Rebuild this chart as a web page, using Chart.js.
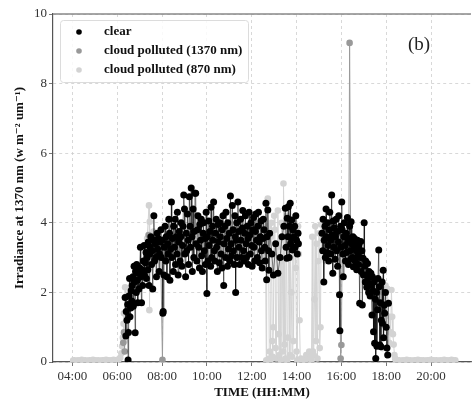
<!DOCTYPE html>
<html lang="en">
<head>
    <meta charset="UTF-8">
    <title>Irradiance at 1370 nm</title>
    <script src="https://cdn.jsdelivr.net/npm/chart.js@4.4.1/dist/chart.umd.min.js"></script>
    <style>
        html, body { margin: 0; padding: 0; background: #fff; }
        #wrap { width: 475px; height: 401px; position: relative; }
    </style>
</head>
<body>
<div id="wrap"><canvas id="irrChart"></canvas></div>
<script>
// time in minutes after midnight, values in w m-2 um-1 ; null = gap in the line
const xTickValues = [240, 360, 480, 600, 720, 840, 960, 1080, 1200];
const xTickLabels = ['04:00', '06:00', '08:00', '10:00', '12:00', '14:00', '16:00', '18:00', '20:00'];
const yTickValues = [0, 2, 4, 6, 8, 10];
const seriesNames = ['clear', 'cloud polluted (1370 nm)', 'cloud polluted (870 nm)'];
const panelTag = '(b)';

const clearT = [
    381, 383, 384, 386, 388, 389, 390, 391, 393, 394, 396, 397, 399, 400, 402, 403, 405, 406, 408, 409,
    411, 412, 414, 415, 417, 418, 420, 422, 423, 425, 426, 428, 430, 432, 433, 435, 437, 438, 440, 442,
    443, 445, 447, 448, 450, 452, 453, 455, 457, 458, 460, 462, 463, 465, 467, 468, 470, 472, 473, 475,
    477, 478, 480, 482, 483, 485, 486, 488, 490, 491, 493, 495, 496, 498, 500, 501, 503, 505, 506, 508,
    510, 511, 513, 515, 516, 518, 520, 521, 523, 525, 526, 528, 530, 531, 533, 535, 536, 538, 540, 541,
    543, 545, 546, 548, 550, 551, 553, 555, 556, 558, 560, 561, 563, 565, 566, 568, 570, 571, 573, 575,
    576, 578, 580, 581, 583, 585, 586, 588, 590, 591, 593, 595, 596, 598, 600, 601, 603, 605, 606, 608,
    610, 611, 613, 615, 616, 618, 620, 621, 623, 625, 626, 628, 630, 631, 633, 635, 636, 638, 640, 641,
    643, 645, 646, 648, 650, 651, 653, 655, 656, 658, 660, 661, 663, 665, 666, 668, 670, 671, 673, 675,
    676, 677, 678, 680, 681, 683, 685, 686, 688, 690, 691, 693, 695, 696, 698, 700, 701, 703, 705, 706,
    708, 710, 711, 713, 715, 716, 718, 720, 721, 723, 725, 726, 728, 730, 731, 733, 735, 736, 738, 740,
    741, 743, 745, 746, 748, 750, 751, 753, 755, 756, 758, 760, 761, 763, 765, 766, 768, 774, 778, 784,
    790, 796, 801, 806, 810, 812, 814, 815, 817, 818, 820, 821, 823, 824, 826, 827, 829, 830, 832, 833,
    835, 836, 838, 840, 842, 844, 845, 880,
    908, 910, 911, 913, 914, 916, 917, 919, 920, 922, 923, 925, 926, 928, 929, 931, 932, 934, 935, 937,
    938, 940, 941, 943, 944, 946, 947, 949, 950, 952, 953, 955, 956, 958, 959, 961, 962, 964, 965, 967,
    968, 970, 971, 973, 974, 976, 977, 979, 980, 982, 983, 985, 986, 988, 989, 991, 992, 994, 995, 997,
    998, 1000, 1001, 1003, 1004, 1006, 1007, 1009, 1010, 1012, 1013, 1015, 1016, 1018, 1019, 1021, 1022, 1024, 1025, 1027,
    1028, 1030, 1031, 1033, 1034, 1036, 1037, 1039, 1040, 1042, 1043, 1045, 1046, 1048, 1049, 1051, 1052, 1054, 1055, 1057,
    1058, 1060, 1061, 1063, 1064, 1066, 1067, 1069, 1070, 1072, 1073, 1075, 1076, 1078, 1080, 1082, 1084, 1086
];
const clearV = [
    1.85, 0.75, 1.45, 1.2, 1.65, 0.06, 0.85, 1.9, 2.4, 1.3, 1.55, 2.05, 1.75, 2.2, 2.45, 1.6, 2.75, 2.3, 0.84, 2.6,
    2.0, 2.8, 2.35, 1.7, 2.55, 2.1, 2.7, 3.3, 2.45, 1.7, 2.65, 2.2, 2.9, 3.35, 2.5, 2.85, 3.15, 2.4, 3.0, 2.65,
    3.45, 2.2, 3.1, 3.3, 3.6, 2.8, 3.2, 2.1, 3.5, 4.2, 2.9, 3.4, 3.0, 2.45, 3.7, 3.25, 3.55, 2.6, 3.1, 3.45,
    3.8, 3.0, 3.5, 1.4, 1.45, 2.5, 3.3, 3.9, 2.9, 3.6, 2.45, 3.4, 3.1, 4.1, 3.7, 2.35, 3.25, 4.6, 3.0, 3.55,
    2.6, 3.9, 3.3, 4.1, 2.8, 3.6, 3.1, 4.3, 2.5, 3.45, 3.75, 2.9, 3.6, 4.0, 2.75, 3.35, 3.9, 4.8, 4.4, 3.1,
    2.45, 3.7, 3.2, 4.25, 3.5, 2.8, 4.75, 3.9, 3.3, 5.0, 3.6, 2.6, 4.4, 3.0, 3.75, 4.85, 4.85, 3.4, 2.9, 3.8,
    4.2, 3.3, 2.7, 3.95, 3.5, 4.1, 3.05, 2.6, 3.7, 4.0, 3.2, 3.55, 2.8, 4.3, 1.97, 3.6, 2.9, 4.05, 3.35, 3.75,
    2.75, 4.45, 3.0, 3.9, 3.5, 4.6, 3.2, 2.9, 3.7, 4.1, 3.3, 2.6, 3.95, 3.45, 2.85, 4.0, 3.6, 3.1, 2.7, 3.8,
    4.2, 2.2, 3.4, 3.9, 3.0, 4.3, 3.55, 2.75, 4.0, 3.25, 3.7, 2.9, 4.77, 3.4, 3.05, 4.5, 3.8, 3.2, 2.8, 4.2,
    3.6, 2.0, 3.5, 4.0, 3.0, 4.6, 3.75, 3.3, 2.8, 4.1, 3.5, 3.0, 3.85, 4.35, 3.2, 2.9, 3.7, 4.2, 3.4, 3.0,
    3.9, 3.55, 2.8, 4.3, 3.65, 3.1, 4.0, 3.35, 2.75, 3.8, 4.15, 3.3, 2.9, 3.75, 4.25, 3.5, 3.0, 3.9, 4.3, 3.45,
    2.85, 3.6, 4.05, 3.2, 2.7, 3.55, 4.1, 3.8, 3.3, 2.9, 4.56, 2.36, 3.6, 4.37, 3.2, 2.64, 3.7, 3.1, 2.5, 3.4,
    2.55, 3.0, 3.6, 3.9, 4.42, 3.3, 2.98, 4.13, 3.6, 4.46, 3.0, 3.9, 4.56, 3.4, 3.55, 4.08, 3.22, 3.8, 3.27, 3.6,
    3.9, 3.3, 4.2, 3.5, 3.1, 3.7, 3.4, null,
    3.7, 3.2, 4.1, 2.3, 3.5, 3.9, 3.0, 4.4, 3.6, 3.15, 4.0, 3.35, 2.9, 3.8, 4.3, 3.5, 3.1, 4.8, 3.65, 2.55,
    4.05, 3.3, 3.85, 2.95, 3.6, 4.1, 3.2, 3.75, 2.75, 3.45, 4.2, 1.93, 0.9, 3.9, 3.3, 4.6, 3.8, 3.1, 2.45, 3.6,
    4.0, 3.35, 2.9, 3.7, 3.15, 4.15, 3.45, 2.8, 3.55, 3.9, 3.2, 2.95, 4.03, 3.4, 3.0, 3.6, 2.74, 3.3, 3.55, 2.9,
    3.45, 3.2, 2.65, 3.5, 3.05, 2.8, 3.35, 1.69, 3.0, 3.46, 2.6, 3.2, 1.64, 2.98, 2.5, 4.0, 2.75, 2.3, 2.9, 2.5,
    2.15, 2.83, 2.4, 2.0, 2.6, 2.25, 1.9, 2.55, 2.2, 1.35, 2.45, 2.05, 0.87, 2.3, 0.54, 1.8, 0.1, 2.0, 0.45, 1.5,
    2.4, 3.22, 2.16, 0.49, 1.7, 0.44, 1.2, 2.3, 1.11, 2.64, 0.7, 1.64, 1.4, 2.0, 1.0, 0.4, 0.2, 1.69
];

const c1370T = [
    376, 378, 380, 400,
    444, 448, 452, 456, 460, 464, 468, 472, 476, 481, 484, 488, 492, 700,
    940, 945, 950, 955, 958, 960, 962, 965, 968, 971, 974, 977, 980, 982, 985, 989, 992, 995, 998, 1001, 1004
];
const c1370V = [
    0.55, 0.85, 0.3, null,
    3.65, 3.3, 3.5, 3.1, 3.4, 3.6, 3.2, 3.45, 3.3, 0.06, 3.0, 3.36, 3.5, null,
    3.9, 3.5, 3.7, 3.2, 0.1, 0.49, 3.4, 3.6, 3.1, 3.3, 3.5, 3.0, 3.4, 9.17, 3.3, 3.1, 3.45, 3.2, 2.9, 3.3, 3.0
];

const c870T = [
    242, 245, 250, 255, 260, 265, 270, 275, 280, 285, 290, 295, 300, 305, 310, 315, 320, 325, 330, 335,
    340, 345, 350, 355, 360, 364, 368, 371, 373, 375, 377, 378, 379, 381, 383, 385, 410,
    437, 440, 445, 446, 447, 449, 451, 454, 457, 460, 463, 600,
    755, 757, 759, 760, 762, 763, 765, 767, 768, 770, 772, 773, 775, 776, 778, 780,
    782, 784, 786, 788, 790, 792, 794, 796, 798, 800, 802, 804, 805, 807, 808, 810, 812, 813, 815, 817,
    819, 820, 822, 824, 826, 828, 830, 832, 834, 836, 838, 840, 842, 844, 846, 848, 850, 852, 855, 858,
    862, 866, 870, 874, 878, 880, 882, 884, 886, 888, 890, 892, 894, 896, 898, 900, 902, 904, 906, 908,
    910, 912, 914, 916, 918, 920, 1000,
    1070, 1072, 1075, 1078, 1080, 1083, 1085, 1088, 1090, 1092, 1094, 1096, 1098, 1100, 1102, 1104, 1106, 1110, 1115, 1120,
    1125, 1130, 1135, 1140, 1145, 1150, 1155, 1160, 1165, 1170, 1175, 1180, 1185, 1190, 1195, 1200, 1205, 1210, 1215, 1220,
    1225, 1230, 1235, 1240, 1245, 1250, 1255, 1260, 1265
];
const c870V = [
    0.04, 0.05, 0.03, 0.05, 0.04, 0.06, 0.04, 0.05, 0.03, 0.05, 0.04, 0.06, 0.05, 0.04, 0.05, 0.03, 0.05, 0.04, 0.06, 0.05,
    0.04, 0.05, 0.06, 0.04, 0.05, 0.08, 0.12, 0.25, 0.45, 0.7, 1.1, 1.4, 0.6, 2.15, 1.35, 0.9, null,
    3.3, 3.55, 4.5, 1.49, 4.03, 2.9, 3.6, 3.3, 3.75, 3.45, 3.6, null,
    3.9, 3.2, 0.05, 3.6, 4.6, 4.7, 3.9, 0.1, 0.3, 0.05, 3.6, 4.0, 0.6, 0.15, 1.0, 4.2,
    3.8, 0.4, 0.1, 3.3, 4.35, 0.8, 0.2, 3.5, 0.05, 4.0, 2.9, 0.3, 5.13, 3.8, 0.5, 0.1, 3.7, 4.2, 0.05, 0.7,
    4.1, 3.4, 0.2, 3.0, 2.0, 0.15, 3.6, 0.6, 4.0, 3.7, 2.7, 0.3, 0.05, 3.9, 3.1, 1.2, 0.05, 0.1, 0.05, 0.08,
    0.05, 0.2, 0.1, 0.3, 0.15, 0.05, 3.6, 0.3, 0.2, 1.8, 3.9, 0.6, 3.4, 0.1, 2.9, 3.7, 0.4, 1.0, 3.95, 3.5,
    4.1, 3.6, 3.3, 3.8, 2.9, 3.5, null,
    0.4, 2.0, 1.5, 2.2, 1.0, 2.1, 1.7, 0.55, 1.3, 0.85, 2.07, 1.3, 0.8, 0.5, 0.2, 0.1, 0.05, 0.04, 0.05, 0.03,
    0.05, 0.04, 0.06, 0.04, 0.05, 0.03, 0.05, 0.04, 0.06, 0.05, 0.04, 0.05, 0.03, 0.05, 0.04, 0.06, 0.05, 0.04, 0.05, 0.03,
    0.05, 0.04, 0.06, 0.05, 0.04, 0.05, 0.06, 0.04, 0.05
];

const serif = '"Liberation Serif", "DejaVu Serif", serif';
Chart.defaults.font.family = serif;

function pairs(ts, vs) {
    return ts.map((t, i) => ({ x: t, y: vs[i] }));
}

// legend box, top spine and panel tag drawn on top of the plot
const extras = {
    id: 'extras',
    afterDraw(chart) {
        const { ctx, chartArea: a } = chart;
        ctx.save();
        ctx.strokeStyle = '#888';
        ctx.lineWidth = 1.5;
        ctx.beginPath();
        ctx.moveTo(a.left, a.top);
        ctx.lineTo(a.right, a.top);
        ctx.stroke();

        const bx = a.left + 7, by = a.top + 6, bw = 188, bh = 62;
        ctx.fillStyle = 'rgba(255,255,255,0.85)';
        ctx.strokeStyle = '#dcdcdc';
        ctx.lineWidth = 1;
        ctx.beginPath();
        ctx.roundRect(bx + 0.5, by + 0.5, bw, bh, 3);
        ctx.fill();
        ctx.stroke();

        ctx.font = 'bold 13px ' + serif;
        ctx.textBaseline = 'middle';
        ctx.textAlign = 'left';
        chart.data.datasets.forEach((ds, i) => {
            const y = by + 12 + i * 19;
            ctx.fillStyle = ds.backgroundColor;
            ctx.beginPath();
            ctx.arc(bx + 19, y, 2.8, 0, Math.PI * 2);
            ctx.fill();
            ctx.fillStyle = '#111';
            ctx.fillText(ds.label, bx + 44, y);
        });

        ctx.font = '19px ' + serif;
        ctx.fillStyle = '#222';
        ctx.textAlign = 'center';
        ctx.fillText(panelTag, a.left + 366, a.top + 31);
        ctx.restore();
    }
};

const gridOpts = {
    color: '#cfcfcf',
    lineWidth: 0.8,
    tickLength: 4,
    tickColor: '#555',
    tickBorderDash: []
};

const ctx = document.getElementById('irrChart').getContext('2d');
new Chart(ctx, {
    type: 'scatter',
    data: {
        datasets: [
            {
                label: seriesNames[0],
                data: pairs(clearT, clearV),
                showLine: true,
                borderColor: 'rgba(0,0,0,0.75)',
                backgroundColor: '#000',
                borderWidth: 0.7,
                pointRadius: 3.5,
                pointBorderWidth: 0,
                order: 0
            },
            {
                label: seriesNames[1],
                data: pairs(c1370T, c1370V),
                showLine: true,
                borderColor: '#999',
                backgroundColor: '#999',
                borderWidth: 1,
                pointRadius: 3.3,
                pointBorderWidth: 0,
                order: 1
            },
            {
                label: seriesNames[2],
                data: pairs(c870T, c870V),
                showLine: true,
                borderColor: '#d3d3d3',
                backgroundColor: '#d3d3d3',
                borderWidth: 1,
                pointRadius: 3.3,
                pointBorderWidth: 0,
                order: 2
            }
        ]
    },
    options: {
        responsive: true,
        maintainAspectRatio: false,
        animation: false,
        spanGaps: false,
        layout: { padding: { top: 14, left: 0, right: 0, bottom: 0 } },
        plugins: {
            legend: { display: false },
            tooltip: { enabled: false }
        },
        scales: {
            x: {
                type: 'linear',
                min: 188,
                max: 1307,
                afterBuildTicks: s => { s.ticks = xTickValues.map(v => ({ value: v })); },
                afterFit: s => { s.height = 39; },
                ticks: {
                    autoSkip: false,
                    maxRotation: 0,
                    padding: 3,
                    color: '#333',
                    font: { size: 13 },
                    callback: v => xTickLabels[xTickValues.indexOf(v)]
                },
                grid: gridOpts,
                border: { color: '#555', width: 1.2, dash: [3, 3] },
                title: {
                    display: true,
                    text: 'TIME (HH:MM)',
                    color: '#111',
                    font: { size: 13, weight: 'bold' },
                    padding: { top: 0, bottom: 1 }
                }
            },
            y: {
                min: 0,
                max: 10,
                afterBuildTicks: s => { s.ticks = yTickValues.map(v => ({ value: v })); },
                afterFit: s => { s.width = 53; },
                ticks: {
                    padding: 2,
                    color: '#333',
                    font: { size: 13 }
                },
                grid: gridOpts,
                border: { color: '#555', width: 1.2, dash: [3, 3] },
                title: {
                    display: true,
                    text: 'Irradiance at 1370 nm (w m\u207B\u00B2 um\u207B\u00B9)',
                    color: '#111',
                    font: { size: 13, weight: 'bold' },
                    padding: { top: 12, bottom: 0 }
                }
            }
        }
    },
    plugins: [extras]
});
</script>
</body>
</html>
